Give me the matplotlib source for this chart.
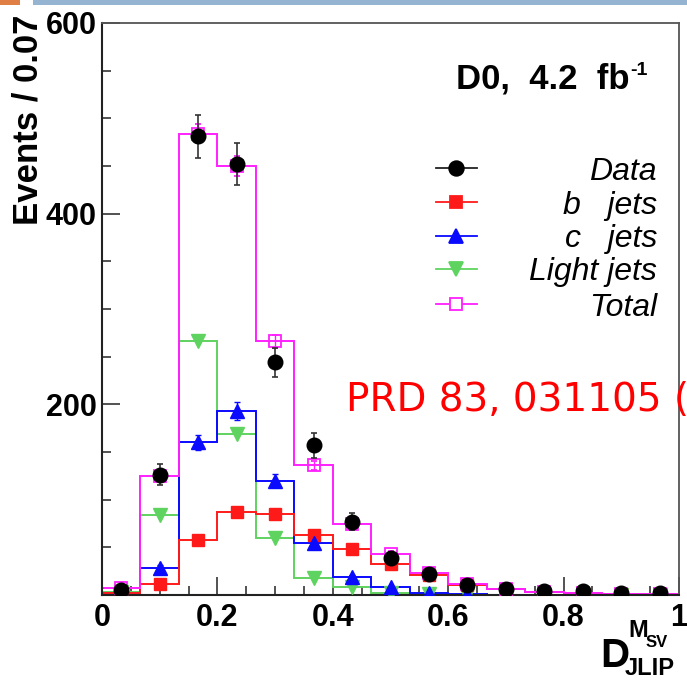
import numpy as np
import matplotlib
matplotlib.use("Agg")
import matplotlib.pyplot as plt
from matplotlib.lines import Line2D
from matplotlib.patches import Rectangle

# ---- data: 15 bins of width 1/15 in D_JLIP^{M_SV} ----
bin_edges = np.linspace(0.0, 1.0, 16)
data_counts = [5, 126, 481, 452, 244, 157, 77, 39, 22, 11, 6, 4.5, 4, 2, 2]
data_errors = [3, 11, 23, 22, 15, 13, 9, 6, 5, 3, 2.5, 2, 2, 1.5, 1.5]
b_jets = [2, 12, 58, 87, 85, 63, 48, 33, 21, 11, 6, 3, 2, 1, 1]
c_jets = [2, 28, 160, 193, 120, 55, 19, 8, 2, 1, 0.3, 0.2, 0, 0, 0]
c_errors = [1, 3, 8, 9, 7, 4, 2, 1, 0.5, 0.3, 0, 0, 0, 0, 0]
light_jets = [3, 84, 266, 169, 60, 18, 8, 2, 1, 0.5, 0.3, 0.2, 0.1, 0, 0]
total_mc = [7, 125, 484, 450, 266, 136, 75, 43, 23, 12, 6, 3.5, 2, 1, 1]
total_errors = [2, 5, 10, 10, 7, 5, 4, 3, 2, 1.5, 1, 1, 0.5, 0.5, 0.5]

x_ticks = [0, 0.2, 0.4, 0.6, 0.8, 1.0]
x_ticklabels = ["0", "0.2", "0.4", "0.6", "0.8", "1"]
y_ticks = [200, 400, 600]
y_ticklabels = ["200", "400", "600"]

legend_labels = ["Data", "b   jets", "c   jets", "Light jets", "Total"]

# ---- styling ----
W, H = 687, 680
ROOT_FONT = "Liberation Sans"
RED = "#ff1a1a"
BLUE = "#0a0aff"
GREEN = "#5fd35f"
MAGENTA = "#ff20ff"

fig = plt.figure(figsize=(W / 100, H / 100), dpi=100)
fig.patch.set_facecolor("white")


def fx(px):
    return px / W


def fy(py):
    return 1 - py / H


ax_left, ax_right, ax_top, ax_bottom = 102, 679, 23, 595
ax = fig.add_axes([fx(ax_left), fy(ax_bottom),
                   (ax_right - ax_left) / W, (ax_bottom - ax_top) / H])
ax.set_xlim(0, 1)
ax.set_ylim(0, 600)

centers = 0.5 * (bin_edges[:-1] + bin_edges[1:])

# histogram outlines
lw = 1.4
ax.stairs(light_jets, bin_edges, baseline=None, color=GREEN, lw=lw, zorder=2)
ax.stairs(c_jets, bin_edges, baseline=None, color=BLUE, lw=lw, zorder=2)
ax.stairs(b_jets, bin_edges, baseline=None, color=RED, lw=lw, zorder=2)
ax.stairs(total_mc, bin_edges, baseline=None, color=MAGENTA, lw=lw, zorder=2)

# bin markers
ax.plot(centers, light_jets, ls="none", marker="v", ms=9.5, color=GREEN,
        mec=GREEN, zorder=3)
ax.errorbar(centers, c_jets, yerr=c_errors, fmt="^", ms=9.5, color=BLUE,
            mec=BLUE, elinewidth=1.0, capsize=2.2, capthick=1.0, zorder=3)
ax.plot(centers, b_jets, ls="none", marker="s", ms=9, color=RED,
        mec=RED, zorder=3)
ax.errorbar(centers, total_mc, yerr=total_errors, fmt="s", ms=9,
            mfc="none", mec=MAGENTA, mew=1.3, ecolor=MAGENTA,
            elinewidth=1.0, capsize=2.2, capthick=1.0, zorder=4)
ax.errorbar(centers, data_counts, yerr=data_errors, fmt="o", ms=10.5,
            color="black", ecolor="#333333", elinewidth=1.2, capsize=2.5,
            capthick=1.2, zorder=5)

# axes frame and ticks
for side in ["left", "bottom"]:
    ax.spines[side].set_color("#222222")
    ax.spines[side].set_linewidth(1.5)
for side in ["top", "right"]:
    ax.spines[side].set_color("#555555")
    ax.spines[side].set_linewidth(1.3)

ax.set_xticks(x_ticks)
ax.set_xticklabels(x_ticklabels)
ax.set_xticks(np.arange(0, 1.0001, 0.05), minor=True)
ax.set_yticks(y_ticks)
ax.set_yticklabels(y_ticklabels)
ax.set_yticks(np.arange(0, 601, 50), minor=True)
ax.tick_params(which="both", direction="in", color="#444444", width=1.3,
               top=False, right=False)
ax.tick_params(which="major", length=13)
ax.tick_params(which="minor", length=6.5)
ax.tick_params(axis="x", which="major", pad=6)
ax.tick_params(axis="y", which="major", pad=4)
for lab in ax.get_xticklabels() + ax.get_yticklabels():
    lab.set_fontfamily(ROOT_FONT)
    lab.set_fontweight("bold")
    lab.set_fontsize(22)

# axis titles
fig.text(fx(28), fy(15), "Events / 0.07", rotation=90, ha="center", va="top",
         fontsize=25, fontweight="bold", family=ROOT_FONT)
fig.text(fx(600), fy(667), "D", ha="left", va="baseline",
         fontsize=29, fontweight="bold", family=ROOT_FONT)
fig.text(fx(625), fy(675), "JLIP", ha="left", va="baseline",
         fontsize=17, fontweight="bold", family=ROOT_FONT)
fig.text(fx(628), fy(637), "M", ha="left", va="baseline",
         fontsize=17, fontweight="bold", family=ROOT_FONT)
fig.text(fx(646), fy(647), "SV", ha="left", va="baseline",
         fontsize=12, fontweight="bold", family=ROOT_FONT)

# experiment label
fig.text(fx(630), fy(89), "D0,  4.2  fb", ha="right", va="baseline",
         fontsize=25, fontweight="bold", family=ROOT_FONT)
fig.text(fx(630), fy(75), "-1", ha="left", va="baseline",
         fontsize=14, fontweight="bold", family=ROOT_FONT)

# legend
legend_rows = [168, 202, 236, 269, 304]
legend_styles = [
    dict(color="#222222", marker="o", ms=10.5, mfc="black", mec="black"),
    dict(color=RED, marker="s", ms=9, mfc=RED, mec=RED),
    dict(color=BLUE, marker="^", ms=9.5, mfc=BLUE, mec=BLUE),
    dict(color=GREEN, marker="v", ms=9.5, mfc=GREEN, mec=GREEN),
    dict(color=MAGENTA, marker="s", ms=9, mfc="white", mec=MAGENTA),
]
for row, label, style in zip(legend_rows, legend_labels, legend_styles):
    fig.add_artist(Line2D([fx(436), fx(477)], [fy(row), fy(row)], lw=1.3,
                          color=style["color"], transform=fig.transFigure))
    fig.add_artist(Line2D([fx(456)], [fy(row)], ls="none", mew=1.3,
                          transform=fig.transFigure, **style))
    fig.text(fx(657), fy(row), label, ha="right", va="center_baseline",
             fontsize=23, style="italic", family=ROOT_FONT)

# publication reference (runs off the right edge)
fig.text(fx(346), fy(411), "PRD 83, 031105 (2011)", ha="left", va="baseline",
         fontsize=28, color="#ff0000", family="DejaVu Sans")

# header bars
fig.add_artist(Rectangle((0, fy(4.5)), fx(20), 4.5 / H,
                         transform=fig.transFigure, color="#e07f45", lw=0))
fig.add_artist(Rectangle((fx(33), fy(4.5)), fx(687 - 33), 4.5 / H,
                         transform=fig.transFigure, color="#94b4d2", lw=0))

fig.savefig("out.png", dpi=100)
